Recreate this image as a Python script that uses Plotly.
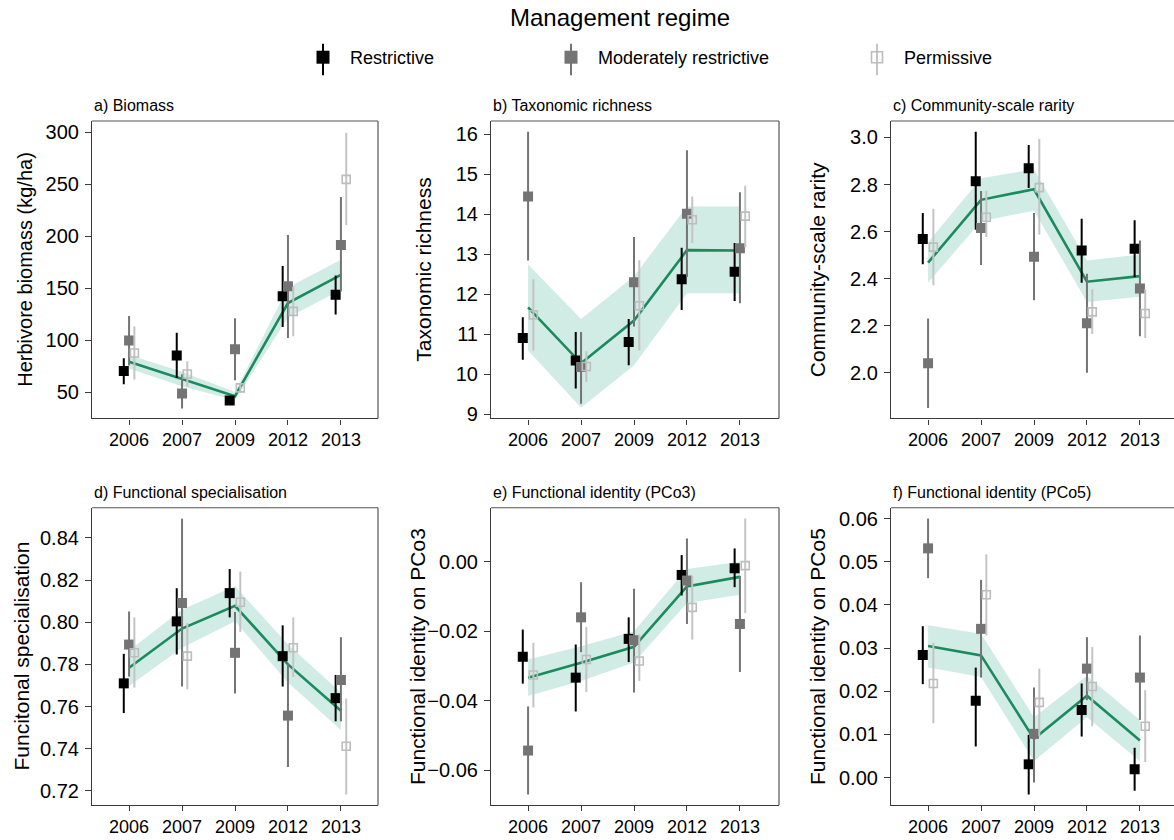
import plotly.graph_objects as go

# ---------------------------------------------------------------- data
years = ["2006", "2007", "2009", "2012", "2013"]
regimes = ["Restrictive", "Moderately restrictive", "Permissive"]

# a) Biomass  (rows: Restrictive, Moderately restrictive, Permissive)
biomass_mid = [[70.6, 85.6, 42.3, 142.4, 144.0],
               [100.0, 49.0, 91.6, 152.0, 191.7],
               [88.0, 67.8, 54.4, 128.0, 254.9]]
biomass_lo = [[58.0, 64.0, 38.5, 113.0, 125.0],
              [76.0, 34.7, 61.7, 102.4, 147.0],
              [62.4, 55.4, 49.7, 104.0, 211.0]]
biomass_hi = [[83.0, 107.5, 46.5, 171.6, 162.4],
              [123.4, 67.5, 121.4, 201.5, 238.0],
              [113.5, 80.0, 58.5, 151.6, 299.7]]
biomass_fit = [79.5, 63.0, 46.5, 136.0, 163.0]
biomass_fit_lo = [73.0, 56.0, 42.5, 122.0, 148.5]
biomass_fit_hi = [86.0, 70.0, 50.5, 151.0, 177.5]

# b) Taxonomic richness
richness_mid = [[10.90, 10.34, 10.80, 12.37, 12.56],
                [14.44, 10.18, 12.30, 14.01, 13.15],
                [11.48, 10.19, 11.71, 13.86, 13.95]]
richness_lo = [[10.36, 9.64, 10.22, 11.60, 11.83],
               [12.84, 9.26, 11.19, 12.43, 11.77],
               [10.59, 9.80, 10.59, 13.28, 13.17]]
richness_hi = [[11.42, 11.05, 11.38, 13.16, 13.28],
               [16.06, 11.05, 13.43, 15.60, 14.55],
               [12.37, 10.57, 12.85, 14.44, 14.71]]
richness_fit = [11.67, 10.27, 11.34, 13.10, 13.09]
richness_fit_lo = [10.59, 9.16, 10.22, 12.02, 12.02]
richness_fit_hi = [12.74, 11.38, 12.45, 14.19, 14.19]

# c) Community-scale rarity
rarity_mid = [[2.569, 2.814, 2.869, 2.520, 2.527],
              [2.041, 2.615, 2.493, 2.211, 2.358],
              [2.534, 2.661, 2.787, 2.259, 2.252]]
rarity_lo = [[2.461, 2.608, 2.785, 2.383, 2.407],
             [1.851, 2.458, 2.308, 2.000, 2.155],
             [2.372, 2.577, 2.587, 2.165, 2.148]]
rarity_hi = [[2.679, 3.024, 2.968, 2.655, 2.648],
             [2.231, 2.773, 2.679, 2.421, 2.562],
             [2.697, 2.773, 2.993, 2.355, 2.355]]
rarity_fit = [2.468, 2.735, 2.780, 2.387, 2.411]
rarity_fit_lo = [2.383, 2.644, 2.689, 2.301, 2.323]
rarity_fit_hi = [2.555, 2.827, 2.865, 2.477, 2.503]

# d) Functional specialisation
special_mid = [[0.7710, 0.8004, 0.8138, 0.7839, 0.7640],
               [0.7894, 0.8091, 0.7855, 0.7557, 0.7726],
               [0.7855, 0.7839, 0.8095, 0.7879, 0.7412]]
special_lo = [[0.7569, 0.7847, 0.8023, 0.7695, 0.7530],
              [0.7742, 0.7695, 0.7662, 0.7313, 0.7530],
              [0.7690, 0.7682, 0.7954, 0.7740, 0.7183]]
special_hi = [[0.7850, 0.8161, 0.8252, 0.7985, 0.7750],
              [0.8051, 0.8491, 0.8048, 0.7803, 0.7929],
              [0.8023, 0.7996, 0.8240, 0.8023, 0.7638]]
special_fit = [0.7784, 0.7970, 0.8078, 0.7800, 0.7580]
special_fit_lo = [0.7698, 0.7879, 0.8004, 0.7714, 0.7489]
special_fit_hi = [0.7866, 0.8059, 0.8172, 0.7894, 0.7667]

# e) Functional identity (PCo3)
pco3_mid = [[-0.02733, -0.03333, -0.02219, -0.00381, -0.00190],
            [-0.05429, -0.01600, -0.02257, -0.00543, -0.01790],
            [-0.03257, -0.02810, -0.02857, -0.01314, -0.00114]]
pco3_lo = [[-0.03505, -0.04305, -0.02886, -0.00971, -0.00733],
           [-0.06695, -0.02600, -0.03762, -0.01790, -0.03171],
           [-0.04190, -0.03743, -0.03429, -0.02238, -0.01476]]
pco3_hi = [[-0.01952, -0.02381, -0.01600, 0.00190, 0.00380],
           [-0.04162, -0.00590, -0.00780, 0.00667, -0.00410],
           [-0.02333, -0.01876, -0.02095, -0.00410, 0.01238]]
pco3_fit = [-0.03333, -0.02905, -0.02448, -0.00714, -0.00438]
pco3_fit_lo = [-0.0386, -0.0343, -0.0290, -0.0119, -0.0095]
pco3_fit_hi = [-0.0281, -0.0243, -0.0200, -0.0021, 0.0000]

# f) Functional identity (PCo5)
pco5_mid = [[0.02839, 0.01780, 0.00307, 0.01565, 0.00192],
            [0.05309, 0.03445, 0.01013, 0.02524, 0.02317],
            [0.02179, 0.04235, 0.01742, 0.02110, 0.01189]]
pco5_lo = [[0.02164, 0.00721, -0.00391, 0.00951, -0.00307],
           [0.04619, 0.02317, -0.00115, 0.01795, 0.01335],
           [0.01258, 0.03292, 0.00959, 0.01189, 0.00361]]
pco5_hi = [[0.03506, 0.02547, 0.00990, 0.02179, 0.00690],
           [0.06000, 0.04580, 0.02087, 0.03253, 0.03292],
           [0.03123, 0.05171, 0.02524, 0.03023, 0.02025]]
pco5_fit = [0.03046, 0.02831, 0.00898, 0.01895, 0.00859]
pco5_fit_lo = [0.02547, 0.02332, 0.00383, 0.01400, 0.00376]
pco5_fit_hi = [0.03529, 0.03330, 0.01400, 0.02355, 0.01335]

panel_titles = ["a) Biomass", "b) Taxonomic richness", "c) Community-scale rarity",
                "d) Functional specialisation", "e) Functional identity (PCo3)",
                "f) Functional identity (PCo5)"]
axis_titles = ["Herbivore biomass (kg/ha)", "Taxonomic richness", "Community-scale rarity",
               "Funcitonal specialisation", "Functional identity on PCo3",
               "Functional identity on PCo5"]
y_ticks = [[50, 100, 150, 200, 250, 300],
           [9, 10, 11, 12, 13, 14, 15, 16],
           [2.0, 2.2, 2.4, 2.6, 2.8, 3.0],
           [0.72, 0.74, 0.76, 0.78, 0.80, 0.82, 0.84],
           [-0.06, -0.04, -0.02, 0.00],
           [0.00, 0.01, 0.02, 0.03, 0.04, 0.05, 0.06]]

panels = [
    (biomass_mid, biomass_lo, biomass_hi, biomass_fit, biomass_fit_lo, biomass_fit_hi),
    (richness_mid, richness_lo, richness_hi, richness_fit, richness_fit_lo, richness_fit_hi),
    (rarity_mid, rarity_lo, rarity_hi, rarity_fit, rarity_fit_lo, rarity_fit_hi),
    (special_mid, special_lo, special_hi, special_fit, special_fit_lo, special_fit_hi),
    (pco3_mid, pco3_lo, pco3_hi, pco3_fit, pco3_fit_lo, pco3_fit_hi),
    (pco5_mid, pco5_lo, pco5_hi, pco5_fit, pco5_fit_lo, pco5_fit_hi),
]

# ---------------------------------------------------------------- styling
W, H = 1174, 840
FONT = "Liberation Sans, Arial, Helvetica, sans-serif"
AXIS_COLOR = "#3a3a3a"
FIT_COLOR = "#1b8a5e"
BAND_COLOR = "rgba(27,158,119,0.2)"

marker_styles = [
    dict(symbol="square", size=10, color="#000000"),
    dict(symbol="square", size=10, color="#747474"),
    dict(symbol="square-open", size=8, color="#bdbdbd", line=dict(width=1.6, color="#bdbdbd")),
]
bar_colors = ["#000000", "#747474", "#c4c4c4"]
dodge = [-0.1, 0.0, 0.1]

col_left = [92, 491, 891]
col_right = [378, 779, 1174]
row_top = [122, 512]
row_bottom = [422, 812]
unit_px = 286 / 5.4            # pixels per category step
y_ranges = [(25, 311), (8.89, 16.33), (1.806, 3.07),
            (0.7132, 0.8543), (-0.070, 0.0155), (-0.0064, 0.0625)]
tick_formats = [None, None, ".1f", ".2f", ".2f", ".2f"]
title_offsets = [67, 67, 73.5, 71, 73.5, 73.5]
title_sizes = [20, 21, 21, 21, 21, 21]

fig = go.Figure()
layout_axes = {}
shapes = []
annotations = []

for i, (mid, lo, hi, fit, fit_lo, fit_hi) in enumerate(panels):
    row, col = divmod(i, 3)
    n = i + 1
    xa = "x" if n == 1 else f"x{n}"
    ya = "y" if n == 1 else f"y{n}"
    xpos = list(range(len(years)))

    # confidence band and fitted trend
    fig.add_trace(go.Scatter(
        x=xpos + xpos[::-1], y=fit_hi + fit_lo[::-1], fill="toself",
        fillcolor=BAND_COLOR, line=dict(width=0), mode="lines",
        hoverinfo="skip", showlegend=False, xaxis=xa, yaxis=ya))
    fig.add_trace(go.Scatter(
        x=xpos, y=fit, mode="lines", line=dict(color=FIT_COLOR, width=2.6),
        showlegend=False, xaxis=xa, yaxis=ya))

    # per-regime means with intervals
    for g in range(3):
        xs = [p + dodge[g] for p in xpos]
        fig.add_trace(go.Scatter(
            x=xs, y=mid[g], mode="markers", marker=marker_styles[g],
            error_y=dict(type="data", symmetric=False,
                         array=[h - m for h, m in zip(hi[g], mid[g])],
                         arrayminus=[m - l for m, l in zip(mid[g], lo[g])],
                         color=bar_colors[g], thickness=2, width=0),
            name=regimes[g], showlegend=False, xaxis=xa, yaxis=ya))

    x0, x1 = col_left[col] / W, col_right[col] / W
    y0, y1 = 1 - row_bottom[row] / H, 1 - row_top[row] / H
    xr_end = -0.7 + (col_right[col] - col_left[col]) / unit_px

    key = "" if n == 1 else str(n)
    layout_axes["xaxis" + key] = dict(
        domain=[x0, x1], anchor=ya, range=[-0.7, xr_end],
        tickmode="array", tickvals=xpos, ticktext=years,
        showline=True, linecolor=AXIS_COLOR, linewidth=1.2,
        ticks="outside", ticklen=5, tickcolor=AXIS_COLOR, tickwidth=1.2,
        showgrid=False, zeroline=False,
        tickfont=dict(family=FONT, size=18, color="#000"))
    yfmt = {} if tick_formats[i] is None else dict(tickformat=tick_formats[i])
    layout_axes["yaxis" + key] = dict(
        domain=[y0, y1], anchor=xa, range=list(y_ranges[i]),
        tickmode="array", tickvals=y_ticks[i], **yfmt,
        showline=True, linecolor=AXIS_COLOR, linewidth=1.2,
        ticks="outside", ticklen=6, tickcolor=AXIS_COLOR, tickwidth=1.2,
        showgrid=False, zeroline=False, ticklabelstandoff=2,
        tickfont=dict(family=FONT, size=20, color="#000"))

    # top and right frame edges
    shapes.append(dict(type="line", xref=f"{xa} domain", yref=f"{ya} domain",
                       x0=0, x1=1, y0=1, y1=1, line=dict(color="#555", width=1.2)))
    if col < 2:
        shapes.append(dict(type="line", xref=f"{xa} domain", yref=f"{ya} domain",
                           x0=1, x1=1, y0=0, y1=1, line=dict(color="#555", width=1.2)))

    annotations.append(dict(
        text=panel_titles[i], xref="paper", yref="paper",
        x=col_left[col] / W, y=1 - (row_top[row] - 15.5) / H,
        xanchor="left", yanchor="middle", showarrow=False,
        font=dict(family=FONT, size=16, color="#000")))
    annotations.append(dict(
        text=axis_titles[i], xref="paper", yref="paper", textangle=-90,
        x=(col_left[col] - title_offsets[i]) / W,
        y=1 - (row_top[row] + row_bottom[row]) / 2 / H,
        xanchor="center", yanchor="middle", showarrow=False,
        font=dict(family=FONT, size=title_sizes[i], color="#000")))

# legend: one entry per regime, each in its own legend box
legend_ids = ["legend", "legend2", "legend3"]
legend_key_px = [323, 571, 877]
legend_markers = [
    dict(symbol="square", size=13, color="#000000"),
    dict(symbol="square", size=13, color="#747474"),
    dict(symbol="square-open", size=11, color="#bdbdbd", line=dict(width=1.6, color="#bdbdbd")),
]
for g in range(3):
    fig.add_trace(go.Scatter(x=[None], y=[None], mode="markers", name=regimes[g],
                             marker=legend_markers[g], legend=legend_ids[g],
                             showlegend=True))
    shapes.append(dict(type="line", xref="paper", yref="paper",
                       x0=legend_key_px[g] / W, x1=legend_key_px[g] / W,
                       y0=1 - 44 / H, y1=1 - 76 / H,
                       line=dict(color=bar_colors[g], width=2)))

legend_common = dict(yanchor="middle", y=1 - 58 / H, xanchor="left",
                     bgcolor="rgba(0,0,0,0)", borderwidth=0, itemwidth=44,
                     font=dict(family=FONT, size=18, color="#000"))
legends = {lid: dict(x=(legend_key_px[g] - 27) / W, **legend_common)
           for g, lid in enumerate(legend_ids)}

annotations.append(dict(
    text="Management regime", xref="paper", yref="paper",
    x=620 / W, y=1 - 18 / H, xanchor="center", yanchor="middle", showarrow=False,
    font=dict(family=FONT, size=24, color="#000")))

fig.update_layout(
    width=W, height=H, margin=dict(l=0, r=0, t=0, b=0),
    paper_bgcolor="white", plot_bgcolor="white",
    font=dict(family=FONT, color="#000"),
    shapes=shapes, annotations=annotations, **layout_axes, **legends)

fig.write_html("out.html")
